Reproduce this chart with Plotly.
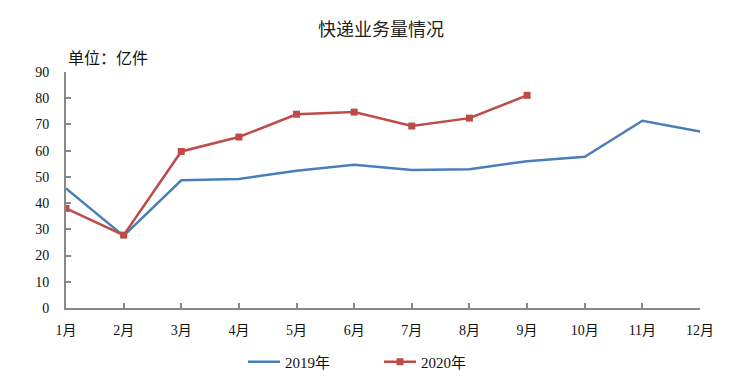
import plotly.graph_objects as go

months = ["1月", "2月", "3月", "4月", "5月", "6月", "7月", "8月", "9月", "10月", "11月", "12月"]
v2019 = [45.6, 27.5, 48.7, 49.2, 52.3, 54.6, 52.6, 52.9, 56.0, 57.7, 71.4, 67.3]
v2020 = [38.0, 27.8, 59.7, 65.2, 73.9, 74.7, 69.4, 72.4, 81.1]
yticks = [0, 10, 20, 30, 40, 50, 60, 70, 80, 90]

serif = "'Liberation Serif', 'Times New Roman', 'Noto Sans CJK SC', serif"

fig = go.Figure()
fig.add_trace(go.Scatter(x=months, y=v2019, name="2019年", mode="lines",
                         line=dict(color="#4a7ebb", width=2.5)))
fig.add_trace(go.Scatter(x=months[:len(v2020)], y=v2020, name="2020年", mode="lines+markers",
                         line=dict(color="#be4b48", width=2.5),
                         marker=dict(symbol="square", size=7, color="#be4b48")))

fig.update_layout(
    width=745, height=380,
    paper_bgcolor="white", plot_bgcolor="white",
    margin=dict(l=66, r=45, t=72, b=72, autoexpand=False),
    title=dict(text="快递业务量情况", x=381 / 745, xanchor="center", xref="container",
               y=(380 - 30) / 380, yanchor="middle", yref="container",
               font=dict(family="'Noto Sans CJK SC', sans-serif", size=18, color="#222")),
    showlegend=True,
    legend=dict(orientation="h", x=(243 - 66) / 634, xanchor="left",
                y=(380 - 362) / 380, yref="container", yanchor="middle",
                font=dict(family=serif, size=15, color="#111"), itemwidth=32,
                traceorder="normal", entrywidthmode="pixels", entrywidth=89,
                bgcolor="rgba(0,0,0,0)"),
    font=dict(family=serif, size=14, color="#111"),
)
fig.update_xaxes(type="category", range=[0, 11], showline=True, linecolor="#888", linewidth=2,
                 ticks="inside", ticklen=5, tickcolor="#888", tickwidth=1.5,
                 showgrid=False, zeroline=False, automargin=False, ticklabelstandoff=8,
                 tickfont=dict(family=serif, size=14, color="#111"))
fig.update_yaxes(range=[0, 90], tickvals=yticks, showline=True, linecolor="#888", linewidth=2,
                 ticks="inside", ticklen=5, tickcolor="#888", tickwidth=1.5,
                 showgrid=False, zeroline=False, automargin=False, ticklabelstandoff=12,
                 tickfont=dict(family=serif, size=14, color="#111"))
fig.add_annotation(text="单位：亿件", xref="paper", yref="paper", x=0, y=1 + 15 / 236,
                   xanchor="left", yanchor="middle", showarrow=False,
                   font=dict(family="'Noto Sans CJK SC', serif", size=16, color="#111"))

fig.write_html("out.html", config={"displayModeBar": False},
               post_script="document.body.style.margin='0px';")
